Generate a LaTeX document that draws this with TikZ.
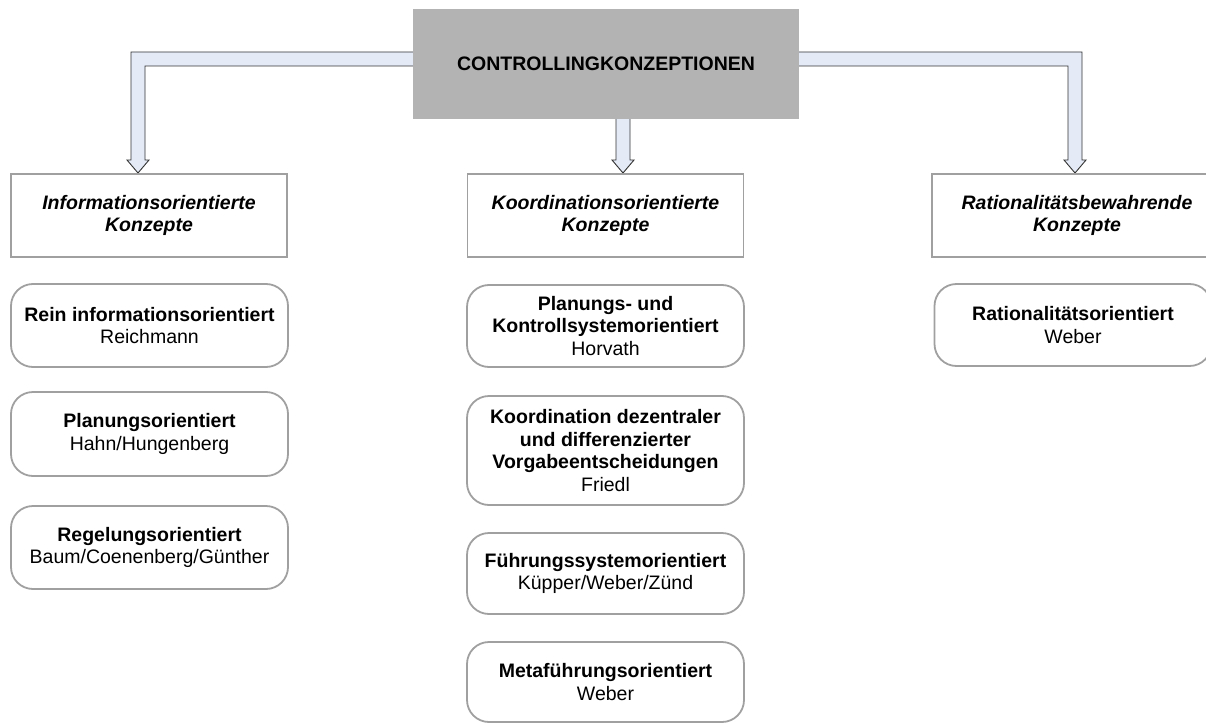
\documentclass[tikz,border=0pt]{standalone}
\usepackage{fontspec}
\setmainfont{Liberation Sans}
\pgfdeclarelayer{bg}
\pgfsetlayers{bg,main}
\definecolor{headgray}{RGB}{179,179,179}
\definecolor{framegray}{RGB}{160,160,160}
\definecolor{arrowfill}{RGB}{228,235,247}
\definecolor{arrowline}{RGB}{50,50,50}
\tikzset{
  txt/.style={font=\fontsize{19.5}{22.5}\selectfont, align=center, inner sep=0pt},
  headbox/.style={txt, fill=headgray, minimum width=386pt, minimum height=110pt},
  groupbox/.style={txt, draw=framegray, line width=1.8pt, minimum width=276pt, minimum height=83pt},
  itembox/.style={txt, draw=framegray, line width=1.8pt, rounded corners=22pt, minimum width=277pt},
  blockarrow/.style={fill=arrowfill, draw=arrowline, line width=0.9pt, line join=miter}
}
\begin{document}
\begin{tikzpicture}[x=1pt, y=-1pt]
\useasboundingbox (0,0) rectangle (1206,722);
\clip (0,0) rectangle (1206,722);

% root
\node[headbox] (top) at (606,64) {\textbf{CONTROLLINGKONZEPTIONEN}};

% groups
\node[groupbox] (info) at (149,215.5) {\textbf{\textit{Informationsorientierte}}\\\textbf{\textit{Konzepte}}};
\node[groupbox] (koord) at (605.5,215.5) {\textbf{\textit{Koordinationsorientierte}}\\\textbf{\textit{Konzepte}}};
\node[groupbox, minimum width=290pt] (rat) at (1077,215.5) {\textbf{\textit{Rationalitätsbewahrende}}\\\textbf{\textit{Konzepte}}};

% left column
\node[itembox, minimum height=83pt] (rein) at (149.5,325.5) {\textbf{Rein informationsorientiert}\\Reichmann};
\node[itembox, minimum height=84pt] (plan) at (149.5,434) {\textbf{Planungsorientiert}\\Hahn/Hungenberg};
\node[itembox, minimum height=83pt] (regel) at (149.5,547.5) {\textbf{Regelungsorientiert}\\Baum/Coenenberg/Günther};

% centre column
\node[itembox, minimum height=82pt] (pks) at (605.5,326) {\textbf{Planungs- und}\\\textbf{Kontrollsystemorientiert}\\Horvath};
\node[itembox, minimum height=109pt] (dez) at (605.5,450.5) {\textbf{Koordination dezentraler}\\\textbf{und differenzierter}\\\textbf{Vorgabeentscheidungen}\\Friedl};
\node[itembox, minimum height=81pt] (fuehr) at (605.5,573.5) {\textbf{Führungssystemorientiert}\\Küpper/Weber/Zünd};
\node[itembox, minimum height=80pt] (meta) at (605.5,682) {\textbf{Metaführungsorientiert}\\Weber};

% right column
\node[itembox, minimum height=82pt] (ratio) at (1073,325) {\textbf{Rationalitätsorientiert}\\Weber};

% arrow tips on the group boxes
\coordinate (tipL) at (138,173);
\coordinate (tipC) at (623,173);
\coordinate (tipR) at (1075,173);
% edges of the horizontal bands at the root box
\coordinate (wHi) at ([yshift=12pt]top.west);
\coordinate (wLo) at ([yshift=-2pt]top.west);
\coordinate (eHi) at ([yshift=12pt]top.east);
\coordinate (eLo) at ([yshift=-2pt]top.east);
% shaft edges
\coordinate (lOut) at ([xshift=-7pt]tipL);
\coordinate (lIn)  at ([xshift=7pt]tipL);
\coordinate (cL)   at ([xshift=-7pt]tipC);
\coordinate (cR)   at ([xshift=7pt]tipC);
\coordinate (rOut) at ([xshift=7pt]tipR);
\coordinate (rIn)  at ([xshift=-7pt]tipR);

\begin{pgfonlayer}{bg}
  % to the information-oriented group
  \draw[blockarrow] (wHi) -- (lOut |- wHi)
    -- ([yshift=13pt]lOut) -- ([xshift=-11pt,yshift=13pt]tipL) -- (tipL)
    -- ([xshift=11pt,yshift=13pt]tipL) -- ([yshift=13pt]lIn)
    -- (lIn |- wLo) -- (wLo);
  % to the coordination-oriented group
  \draw[blockarrow] (cL |- top.south) -- ([yshift=13pt]cL)
    -- ([xshift=-11pt,yshift=13pt]tipC) -- (tipC) -- ([xshift=11pt,yshift=13pt]tipC)
    -- ([yshift=13pt]cR) -- (cR |- top.south);
  % to the rationality-preserving group
  \draw[blockarrow] (eHi) -- (rOut |- eHi)
    -- ([yshift=13pt]rOut) -- ([xshift=11pt,yshift=13pt]tipR) -- (tipR)
    -- ([xshift=-11pt,yshift=13pt]tipR) -- ([yshift=13pt]rIn)
    -- (rIn |- eLo) -- (eLo);
\end{pgfonlayer}
\end{tikzpicture}
\end{document}
